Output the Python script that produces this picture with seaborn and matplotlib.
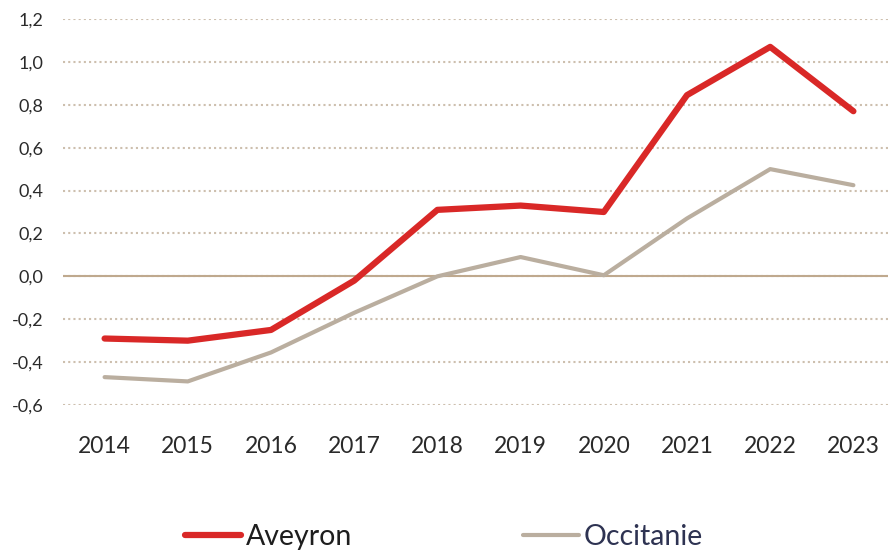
import pandas as pd
import seaborn as sns
import matplotlib.pyplot as plt
from matplotlib.ticker import FuncFormatter, MultipleLocator
from matplotlib.lines import Line2D

years = ['2014', '2015', '2016', '2017', '2018', '2019', '2020', '2021', '2022', '2023']
aveyron = [-0.29, -0.30, -0.25, -0.02, 0.31, 0.33, 0.30, 0.845, 1.07, 0.77]
occitanie = [-0.47, -0.49, -0.355, -0.17, 0.0, 0.09, 0.005, 0.27, 0.50, 0.425]
series_names = ['Aveyron', 'Occitanie']
colors = ['#D92827', '#BAAE9F']

df = pd.DataFrame({
    'Année': years * 2,
    'Valeur': aveyron + occitanie,
    'Zone': [series_names[0]] * len(years) + [series_names[1]] * len(years),
})

sns.set_style('white')
plt.rcParams['font.family'] = ['Lato', 'DejaVu Sans']

fig = plt.figure(figsize=(8.88, 5.52), dpi=100)
ax = fig.add_axes([63 / 888, (552 - 405) / 552, (895 - 63) / 888, (405 - 19) / 552])

ax.yaxis.grid(True, linestyle=(0, (1, 1.5)), color='#CDBFAE', linewidth=1.5)
ax.axhline(0, color='#BFA98E', linewidth=1.5, zorder=1)

sns.lineplot(data=df, x='Année', y='Valeur', hue='Zone', palette=colors,
             sort=False, legend=False, ax=ax)
widths = [4.5, 3]
for line, w in zip(ax.get_lines()[-2:], widths):
    line.set_linewidth(w)
    line.set_solid_capstyle('round')
    line.set_clip_on(False)

ax.set_xlim(-0.5, len(years) - 0.5)
ax.set_ylim(-0.6, 1.2)
ax.yaxis.set_major_locator(MultipleLocator(0.2))
ax.yaxis.set_major_formatter(FuncFormatter(lambda v, p: f'{v:.1f}'.replace('.', ',').replace('-0,0', '0,0')))
ax.set_xlabel('')
ax.set_ylabel('')
for s in ax.spines.values():
    s.set_visible(False)
ax.tick_params(axis='x', length=0, pad=22, labelsize=16.5, labelcolor='#2A2A2A')
ax.tick_params(axis='y', length=0, pad=14, labelsize=13, labelcolor='#2A2A2A')

handles = [Line2D([0], [0], color=colors[0], lw=4.5, solid_capstyle='round'),
           Line2D([0], [0], color=colors[1], lw=3, solid_capstyle='round')]
leg = fig.legend(handles, series_names, loc='center', bbox_to_anchor=(0.5, (552 - 537) / 552),
                 ncol=2, frameon=False, fontsize=20.5, handlelength=1.95, handletextpad=0.17,
                 columnspacing=6.0)
leg.get_texts()[0].set_color('#1E1E1E')
leg.get_texts()[1].set_color('#2E3352')

fig.savefig('out.png', dpi=100)
